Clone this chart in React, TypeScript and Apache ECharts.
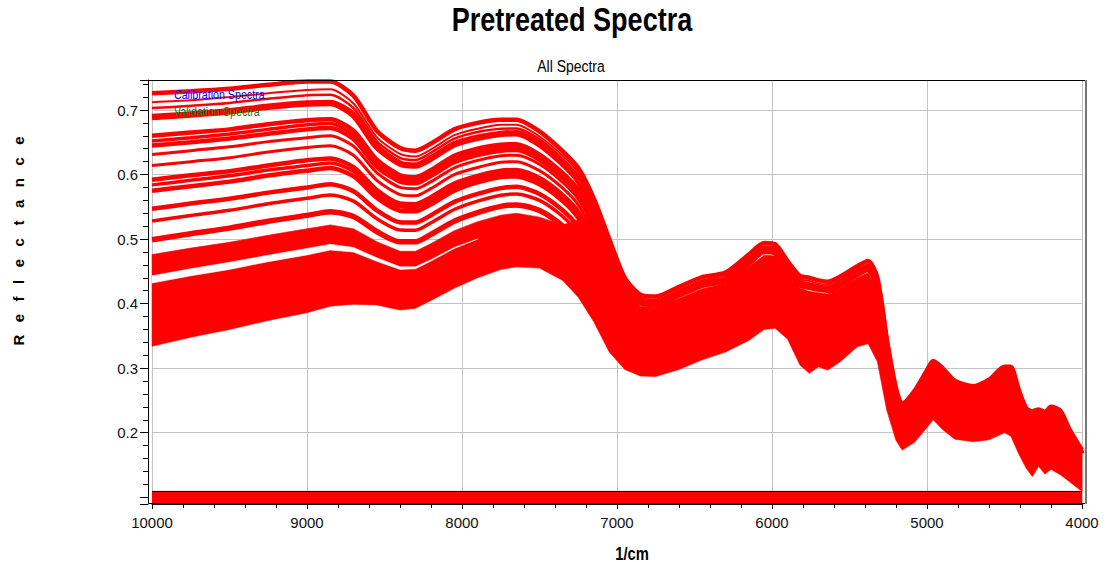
import React, { useEffect, useRef } from 'react';
import * as echarts from 'echarts';

// Wavenumber grid (1/cm), descending
const wavenumbers = [10000, 9750, 9500, 9250, 9000, 8850, 8700, 8550, 8400, 8300, 8200, 8050, 7900, 7750, 7650, 7500, 7350, 7250, 7150, 7050, 6950, 6850, 6750, 6600, 6450, 6300, 6150, 6050, 5980, 5900, 5820, 5760, 5700, 5640, 5560, 5450, 5380, 5320, 5260, 5200, 5160, 5080, 5000, 4960, 4900, 4820, 4700, 4600, 4500, 4460, 4410, 4360, 4320, 4280, 4240, 4200, 4140, 4080, 4000];

// Lower edge of the spectra bundle
const lowerEdge = [0.334, 0.348, 0.360, 0.374, 0.386, 0.396, 0.399, 0.398, 0.390, 0.393, 0.405, 0.424, 0.440, 0.453, 0.457, 0.455, 0.436, 0.410, 0.372, 0.325, 0.298, 0.288, 0.287, 0.298, 0.313, 0.325, 0.343, 0.360, 0.362, 0.345, 0.305, 0.292, 0.302, 0.297, 0.310, 0.333, 0.338, 0.310, 0.235, 0.188, 0.173, 0.185, 0.208, 0.220, 0.205, 0.190, 0.186, 0.189, 0.200, 0.195, 0.168, 0.145, 0.132, 0.148, 0.136, 0.143, 0.135, 0.124, 0.109];

// Top of the densely packed (solid) part of the bundle
const solidTop = [0.476, 0.486, 0.495, 0.506, 0.516, 0.522, 0.516, 0.496, 0.481, 0.481, 0.493, 0.513, 0.527, 0.537, 0.540, 0.534, 0.522, 0.530, 0.534, 0.476, 0.420, 0.396, 0.394, 0.408, 0.423, 0.431, 0.457, 0.475, 0.474, 0.449, 0.424, 0.419, 0.417, 0.415, 0.424, 0.440, 0.448, 0.422, 0.334, 0.260, 0.238, 0.257, 0.288, 0.302, 0.291, 0.271, 0.263, 0.273, 0.292, 0.291, 0.258, 0.229, 0.223, 0.227, 0.222, 0.230, 0.224, 0.197, 0.167];

// White gap inside the dense block (first 13 wavenumbers)
const gapLow = [0.432, 0.443, 0.453, 0.465, 0.4755, 0.483, 0.480, 0.4655, 0.453, 0.454, 0.466, 0.4855, 0.500];
const gapHigh = [0.443, 0.454, 0.464, 0.475, 0.4855, 0.492, 0.487, 0.471, 0.457, 0.457, 0.468, 0.487, 0.500];

// Individual spectra, full range
const spectrumA = [0.726, 0.729, 0.733, 0.739, 0.744, 0.744, 0.722, 0.668, 0.641, 0.637, 0.648, 0.670, 0.680, 0.685, 0.685, 0.667, 0.636, 0.610, 0.563, 0.500, 0.440, 0.414, 0.411, 0.426, 0.441, 0.448, 0.476, 0.494, 0.492, 0.466, 0.443, 0.440, 0.436, 0.434, 0.442, 0.458, 0.466, 0.440, 0.345, 0.268, 0.245, 0.265, 0.297, 0.311, 0.300, 0.280, 0.272, 0.282, 0.302, 0.302, 0.268, 0.238, 0.233, 0.236, 0.232, 0.240, 0.234, 0.205, 0.173];
const spectrumB = [0.712, 0.715, 0.720, 0.726, 0.731, 0.732, 0.710, 0.658, 0.632, 0.628, 0.639, 0.661, 0.671, 0.677, 0.677, 0.659, 0.629, 0.603, 0.556, 0.494, 0.435, 0.4095, 0.4065, 0.421, 0.436, 0.444, 0.471, 0.489, 0.487, 0.462, 0.438, 0.435, 0.431, 0.429, 0.437, 0.4535, 0.461, 0.435, 0.341, 0.265, 0.242, 0.262, 0.294, 0.308, 0.297, 0.277, 0.269, 0.279, 0.298, 0.298, 0.264, 0.235, 0.229, 0.233, 0.2285, 0.2365, 0.230, 0.202, 0.171];
const spectrumC = [0.703, 0.7065, 0.711, 0.7175, 0.723, 0.7235, 0.703, 0.652, 0.626, 0.6226, 0.6337, 0.6555, 0.666, 0.671, 0.6715, 0.6545, 0.624, 0.598, 0.552, 0.490, 0.4316, 0.4066, 0.4037, 0.4184, 0.4334, 0.4407, 0.4682, 0.4861, 0.4843, 0.4589, 0.4349, 0.4313, 0.4281, 0.4259, 0.4342, 0.4506, 0.4584, 0.4323, 0.3385, 0.2633, 0.2408, 0.2603, 0.2917, 0.3056, 0.2944, 0.2747, 0.2669, 0.2765, 0.296, 0.2957, 0.2621, 0.2325, 0.227, 0.2308, 0.2263, 0.2343, 0.2282, 0.2002, 0.1692];
const spectrumD = [0.689, 0.693, 0.698, 0.705, 0.710, 0.711, 0.692, 0.643, 0.617, 0.614, 0.625, 0.647, 0.657, 0.663, 0.664, 0.647, 0.617, 0.591, 0.545, 0.4835, 0.4267, 0.4022, 0.3993, 0.414, 0.429, 0.4364, 0.4635, 0.4814, 0.4798, 0.4546, 0.430, 0.4261, 0.4234, 0.4211, 0.4296, 0.4462, 0.454, 0.4278, 0.3347, 0.2605, 0.2382, 0.2575, 0.2886, 0.3024, 0.2911, 0.2715, 0.2639, 0.2733, 0.2924, 0.2919, 0.2586, 0.2293, 0.2235, 0.2277, 0.223, 0.2309, 0.2247, 0.1974, 0.167];

// Spectra that merge into the dense block (first 21 wavenumbers)
const spectrumE = [0.660, 0.665, 0.670, 0.678, 0.684, 0.6855, 0.668, 0.623, 0.599, 0.596, 0.607, 0.629, 0.640, 0.646, 0.647, 0.631, 0.602, 0.576, 0.531, 0.4706, 0.416];
const spectrumEF = [0.652, 0.657, 0.663, 0.670, 0.677, 0.679, 0.661, 0.617, 0.594, 0.591, 0.602, 0.624, 0.635, 0.641, 0.642, 0.627, 0.598, 0.572, 0.527, 0.467, 0.413];
const spectrumF = [0.645, 0.650, 0.656, 0.663, 0.670, 0.672, 0.655, 0.612, 0.589, 0.5865, 0.598, 0.619, 0.630, 0.637, 0.638, 0.623, 0.595, 0.569, 0.5235, 0.464, 0.411];
const spectrumG = [0.631, 0.637, 0.643, 0.651, 0.657, 0.660, 0.644, 0.603, 0.580, 0.578, 0.589, 0.6105, 0.622, 0.629, 0.630, 0.616, 0.588, 0.562, 0.517, 0.458, 0.406];
const spectrumH = [0.614, 0.620, 0.626, 0.635, 0.642, 0.6445, 0.630, 0.591, 0.569, 0.567, 0.5785, 0.600, 0.611, 0.619, 0.620, 0.606, 0.579, 0.553, 0.508, 0.450, 0.399];
const spectrumI = [0.592, 0.599, 0.605, 0.614, 0.622, 0.625, 0.6115, 0.576, 0.555, 0.554, 0.565, 0.586, 0.598, 0.606, 0.607, 0.5945, 0.568, 0.542, 0.498, 0.440, 0.391];
const spectrumIJ = [0.584, 0.591, 0.598, 0.607, 0.614, 0.618, 0.605, 0.570, 0.550, 0.549, 0.560, 0.581, 0.593, 0.601, 0.6025, 0.590, 0.564, 0.538, 0.494, 0.437, 0.389];
const spectrumJ = [0.575, 0.582, 0.589, 0.5985, 0.606, 0.610, 0.5976, 0.564, 0.544, 0.543, 0.554, 0.575, 0.588, 0.596, 0.597, 0.585, 0.559, 0.533, 0.4895, 0.4326, 0.385];
const spectrumK = [0.547, 0.555, 0.5625, 0.572, 0.580, 0.585, 0.574, 0.5446, 0.526, 0.5255, 0.537, 0.5576, 0.570, 0.579, 0.581, 0.570, 0.5446, 0.5186, 0.476, 0.420, 0.375];
const spectrumL = [0.528, 0.5366, 0.5446, 0.5547, 0.5632, 0.5683, 0.5589, 0.5317, 0.5142, 0.5138, 0.5253, 0.5458, 0.5588, 0.5678, 0.5699, 0.5599, 0.535, 0.509, 0.4665, 0.4116, 0.368];
const spectrumM = [0.499, 0.5084, 0.517, 0.5277, 0.5367, 0.5425, 0.535, 0.5117, 0.4957, 0.4957, 0.5073, 0.5276, 0.541, 0.5507, 0.553, 0.5443, 0.5202, 0.4942, 0.4524, 0.3987, 0.3578];

// Clipped spectra level at the bottom of the plot
const clippedRange = [10000, 4000];
const clippedLevel = 0.109;

// Axis ticks
const xMinorTicks = [4000, 4200, 4400, 4600, 4800, 5000, 5200, 5400, 5600, 5800, 6000, 6200, 6400, 6600, 6800, 7000, 7200, 7400, 7600, 7800, 8000, 8200, 8400, 8600, 8800, 9000, 9200, 9400, 9600, 9800, 10000];
const yMinorTicks = [0.1, 0.12, 0.14, 0.16, 0.18, 0.2, 0.22, 0.24, 0.26, 0.28, 0.3, 0.32, 0.34, 0.36, 0.38, 0.4, 0.42, 0.44, 0.46, 0.48, 0.5, 0.52, 0.54, 0.56, 0.58, 0.6, 0.62, 0.64, 0.66, 0.68, 0.7, 0.72, 0.74];
const yLabelValues = [0.2, 0.3, 0.4, 0.5, 0.6, 0.7];

const SANS = "'Liberation Sans', Arial, sans-serif";
const RED = '#ff0000';
const NARROW_SCALE = 0.82;

function pairs(vals: number[]) {
  return vals.map((v, i) => [wavenumbers[i], v]);
}

function bandSeries(upper: number[], lower: number[], fill: string, z: number) {
  return {
    type: 'custom',
    silent: true,
    z,
    data: [[7000, 0.4]],
    renderItem: (params: any, api: any) => {
      const pts: number[][] = [];
      for (let i = 0; i < upper.length; i++) pts.push(api.coord([wavenumbers[i], upper[i]]));
      for (let i = lower.length - 1; i >= 0; i--) pts.push(api.coord([wavenumbers[i], lower[i]]));
      return { type: 'polygon', shape: { points: pts }, style: { fill, stroke: fill, lineWidth: 0.6 } };
    },
  };
}

function lineSeries(vals: number[], width: number) {
  return {
    type: 'line',
    silent: true,
    z: 4,
    symbol: 'none',
    smooth: 0.25,
    data: pairs(vals),
    lineStyle: { color: RED, width },
  };
}

function narrowText(text: string, x: number, y: number, size: number, extra: any = {}) {
  return {
    type: 'text', x, y, scaleX: NARROW_SCALE, z: extra.z ?? 10,
    style: { text, fontFamily: SANS, fontSize: size, fontWeight: extra.bold ? 'bold' : 'normal', fill: extra.fill || '#000', align: extra.align || 'center', verticalAlign: 'middle' },
  };
}

export default function App() {
  const ref = useRef<HTMLDivElement>(null);
  useEffect(() => {
    if (!ref.current) return;
    const chart = echarts.init(ref.current, undefined, { renderer: 'svg' });
    const option: any = {
      animation: false,
      backgroundColor: '#ffffff',
      grid: { left: 152, right: 24, top: 80, bottom: 58, containLabel: false },
      xAxis: [
        {
          type: 'value', min: 4000, max: 10000, interval: 1000, inverse: true,
          axisLine: { show: true, lineStyle: { color: '#000', width: 1 } },
          axisTick: { show: true, length: 5, lineStyle: { color: '#000' } },
          axisLabel: { color: '#111', fontFamily: SANS, fontSize: 15, margin: 11, formatter: (v: number) => String(v) },
          splitLine: { show: true, lineStyle: { color: '#c4c4c4', width: 1 } },
        },
        {
          type: 'value', min: 4000, max: 10000, inverse: true, position: 'bottom',
          axisLine: { show: false },
          axisTick: { show: true, length: 4, customValues: xMinorTicks, lineStyle: { color: '#000' } },
          axisLabel: { show: false },
          splitLine: { show: false },
        },
      ],
      yAxis: [
        {
          type: 'value', min: 0.0895, max: 0.7465, offset: 4, position: 'left',
          axisLine: { show: true, lineStyle: { color: '#000', width: 1 } },
          axisTick: { show: true, length: 8, lineStyle: { color: '#000' } },
          axisLabel: {
            color: '#111', fontFamily: SANS, fontSize: 15, margin: 10,
            formatter: (v: number) => {
              const hit = yLabelValues.find((t) => Math.abs(t - v) < 1e-6);
              return hit !== undefined ? hit.toFixed(1) : '';
            },
          },
          splitLine: { show: true, lineStyle: { color: '#c4c4c4', width: 1 } },
        },
        {
          type: 'value', min: 0.0895, max: 0.7465, offset: 4, position: 'left',
          axisLine: { show: false },
          axisTick: { show: true, length: 5, customValues: yMinorTicks, lineStyle: { color: '#000' } },
          axisLabel: { show: false },
          splitLine: { show: false },
        },
      ],
      series: [
        bandSeries(solidTop, lowerEdge, RED, 2),
        bandSeries(gapHigh, gapLow, '#ffffff', 3),
        lineSeries(spectrumM, 5.5),
        lineSeries(spectrumL, 3.5),
        lineSeries(spectrumK, 4.5),
        lineSeries(spectrumJ, 4.5),
        lineSeries(spectrumIJ, 3.5),
        lineSeries(spectrumI, 4.5),
        lineSeries(spectrumH, 3),
        lineSeries(spectrumG, 3),
        lineSeries(spectrumF, 4.5),
        lineSeries(spectrumEF, 3.5),
        lineSeries(spectrumE, 4.5),
        lineSeries(spectrumD, 6.5),
        lineSeries(spectrumC, 2.5),
        lineSeries(spectrumB, 2),
        lineSeries(spectrumA, 4.5),
        {
          type: 'line', silent: true, z: 5, symbol: 'none',
          data: clippedRange.map((w) => [w, clippedLevel]),
          lineStyle: { color: '#000', width: 1 },
          areaStyle: { color: RED, origin: 'start', opacity: 1 },
        },
      ],
      graphic: [
        narrowText('Pretreated Spectra', 572, 20, 33, { bold: true }),
        narrowText('All Spectra', 571, 66, 17),
        narrowText('Calibration Spectra', 174, 95, 13, { fill: '#0000ff', align: 'left', z: 50 }),
        narrowText('Validation Spectra', 174, 112, 13, { fill: '#008000', align: 'left', z: 50 }),
        { type: 'text', x: 18, y: 241, rotation: Math.PI / 2, style: { text: 'R   e   f   l   e   c   t   a   n   c   e', fontFamily: SANS, fontWeight: 'bold', fontSize: 15, fill: '#000', align: 'center', verticalAlign: 'middle' } },
        narrowText('1/cm', 632, 553, 18, { bold: true }),
        { type: 'rect', z: 100, shape: { x: 148.5, y: 80.5, width: 937, height: 423 }, style: { fill: 'none', stroke: '#000', lineWidth: 1 } },
        { type: 'line', z: 101, shape: { x1: 1086, y1: 80, x2: 1086, y2: 504 }, style: { stroke: '#777', lineWidth: 2 } },
      ],
    };
    chart.setOption(option);
    return () => chart.dispose();
  }, []);
  return <div ref={ref} style={{ position: 'fixed', left: 0, top: 0, width: 1106, height: 562 }} />;
}
